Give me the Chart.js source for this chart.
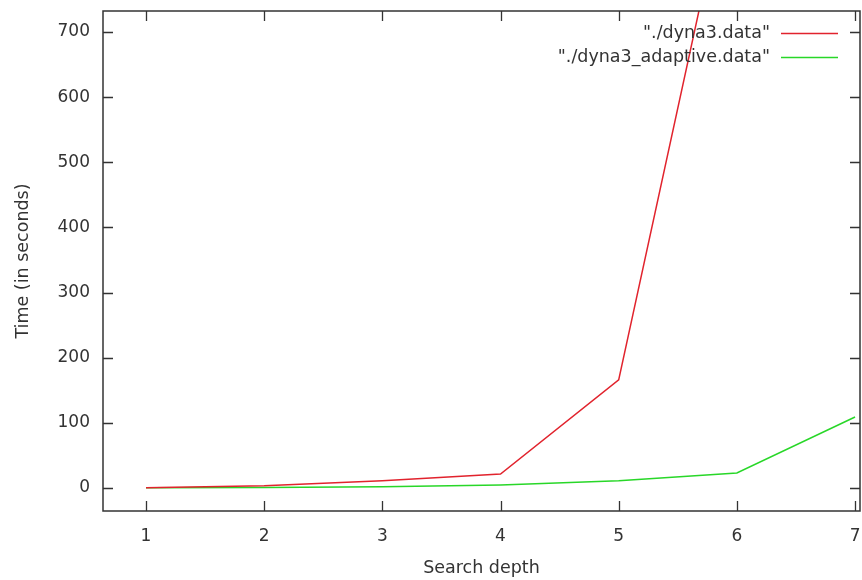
<!DOCTYPE html>
<html>
<head>
<meta charset="utf-8">
<script src="https://cdn.jsdelivr.net/npm/chart.js@4/dist/chart.umd.min.js"></script>
<style>
  html, body { margin: 0; padding: 0; background: #ffffff; }
  #wrap { width: 862px; height: 580px; }
</style>
</head>
<body>
<div id="wrap"><canvas id="c" width="862" height="580"></canvas></div>
<script>
// ---- data ----
const depths = [1, 2, 3, 4, 5, 6, 7];
const dynaTimes = [0.5, 3.5, 11, 21.5, 166, 1000];          // "./dyna3.data" (point at 6 is off the top)
const adaptiveTimes = [0.3, 0.8, 2, 4.5, 11, 23, 109];      // "./dyna3_adaptive.data"
const seriesNames = ['"./dyna3.data"', '"./dyna3_adaptive.data"'];
const xTicks = [1, 2, 3, 4, 5, 6, 7];
const yTicks = [0, 100, 200, 300, 400, 500, 600, 700];
const xTitle = 'Search depth';
const yTitle = 'Time (in seconds)';

const FONT = '"DejaVu Sans", sans-serif';
const TEXT = '#333333';
const FRAME = '#333333';
const colors = ['rgb(225,35,45)', 'rgb(40,215,40)'];

function pts(xs, ys) { return ys.map((v, i) => ({ x: xs[i], y: v })); }
function noPad(s) { s.paddingTop = 0; s.paddingBottom = 0; s.paddingLeft = 0; s.paddingRight = 0; }

const framePlugin = {
  id: 'gnuplotFrame',
  afterDatasetsDraw(chart) {
    const { ctx, chartArea: a, scales } = chart;
    const xs = scales.x, ys = scales.y;
    const tl = 10;
    ctx.save();
    ctx.strokeStyle = FRAME;
    ctx.lineWidth = 1.5;
    ctx.beginPath();
    ctx.rect(a.left, a.top, a.right - a.left, a.bottom - a.top);
    ctx.stroke();
    ctx.lineWidth = 1.3;
    ctx.beginPath();
    xTicks.forEach(v => {
      const px = Math.round(xs.getPixelForValue(v)) + 0.5;
      ctx.moveTo(px, a.bottom); ctx.lineTo(px, a.bottom - tl);
      ctx.moveTo(px, a.top); ctx.lineTo(px, a.top + tl);
    });
    yTicks.forEach(v => {
      const py = Math.round(ys.getPixelForValue(v)) + 0.5;
      ctx.moveTo(a.left, py); ctx.lineTo(a.left + tl, py);
      ctx.moveTo(a.right, py); ctx.lineTo(a.right - tl, py);
    });
    ctx.stroke();

    // legend: text right-aligned, then line sample
    ctx.font = '17.5px ' + FONT;
    ctx.fillStyle = TEXT;
    ctx.textAlign = 'right';
    ctx.textBaseline = 'middle';
    const rows = [33, 57];
    seriesNames.forEach((name, i) => {
      ctx.fillText(name, 770, rows[i]);
      ctx.strokeStyle = colors[i];
      ctx.lineWidth = 1.5;
      ctx.beginPath();
      ctx.moveTo(781, rows[i] + 0.5);
      ctx.lineTo(838, rows[i] + 0.5);
      ctx.stroke();
    });
    ctx.restore();
  }
};

new Chart(document.getElementById('c'), {
  type: 'line',
  data: {
    datasets: [
      { label: seriesNames[0], data: pts(depths, dynaTimes), borderColor: colors[0], borderWidth: 1.5, pointRadius: 0, tension: 0, fill: false },
      { label: seriesNames[1], data: pts(depths, adaptiveTimes), borderColor: colors[1], borderWidth: 1.5, pointRadius: 0, tension: 0, fill: false }
    ]
  },
  options: {
    responsive: false,
    animation: false,
    events: [],
    layout: { padding: { top: 11, right: 2, left: 0, bottom: 0 } },
    plugins: { legend: { display: false }, tooltip: { enabled: false } },
    scales: {
      x: {
        type: 'linear',
        min: 0.636,
        max: 7.042,
        grid: { display: false, drawTicks: false },
        border: { display: false },
        afterBuildTicks: s => { s.ticks = xTicks.map(v => ({ value: v })); },
        afterFit: s => { s.height = 69; noPad(s); },
        ticks: { color: TEXT, font: { family: FONT, size: 17 }, padding: 15, maxRotation: 0, autoSkip: false },
        title: { display: true, text: xTitle, color: TEXT, font: { family: FONT, size: 17.5 }, padding: { top: 0, bottom: 1.5 } }
      },
      y: {
        type: 'linear',
        min: -35.3,
        max: 732.2,
        grid: { display: false, drawTicks: false },
        border: { display: false },
        afterBuildTicks: s => { s.ticks = yTicks.map(v => ({ value: v })); },
        afterFit: s => { s.width = 103; noPad(s); },
        ticks: { color: TEXT, font: { family: FONT, size: 17 }, padding: 13, autoSkip: false },
        title: { display: true, text: yTitle, color: TEXT, font: { family: FONT, size: 17.5 }, padding: { top: 13, bottom: 0 } }
      }
    }
  },
  plugins: [framePlugin]
});
</script>
</body>
</html>
